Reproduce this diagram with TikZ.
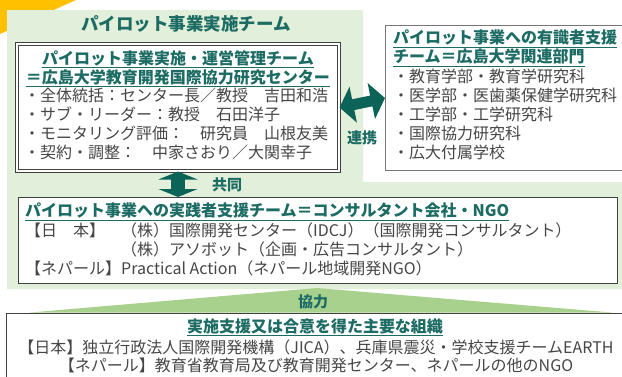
\documentclass[tikz,border=0pt]{standalone}
\usepackage{fontspec}
\setmainfont{Noto Sans CJK JP}
\usetikzlibrary{arrows.meta,positioning}
\definecolor{jteal}{RGB}{28,108,100}
\definecolor{arrowteal}{RGB}{12,100,88}
\definecolor{textgray}{RGB}{70,70,70}
\definecolor{bggreen}{RGB}{226,239,218}
\definecolor{wedgegreen}{RGB}{169,209,142}
\definecolor{gold}{RGB}{255,192,0}
\definecolor{framegray}{RGB}{64,64,64}
\definecolor{lightframe}{RGB}{118,118,118}
\begin{document}
\begin{tikzpicture}[x=1pt,y=-1pt,
    every node/.style={inner sep=0pt},
    body/.style={font=\fontsize{16}{19}\selectfont, text=textgray},
    head/.style={font=\bfseries\fontsize{16}{19}\selectfont, text=jteal},
    lbl/.style={font=\bfseries\fontsize{15}{18}\selectfont, text=jteal},
    box/.style={draw=framegray, line width=1.2pt, fill=white},
    dblbox/.style={draw=framegray, double=white, double distance=1.5pt, line width=1pt, fill=white},
    bigarrow/.style={draw=arrowteal, line width=11pt, {Triangle[length=14pt,width=36pt]}-{Triangle[length=14pt,width=36pt]}},
    vertarrow/.style={draw=arrowteal, line width=14pt, {Triangle[length=8pt,width=39pt]}-{Triangle[length=8pt,width=39pt]}}]
    \useasboundingbox (0,0) rectangle (622,376);
    % background shapes
    \fill[gold] (0,0) -- (76,0) -- (0,34) -- cycle;
    \fill[bggreen] (7,10) -- (363,10) -- (363,182) -- (622,182) -- (622,289) -- (7,289) -- cycle;
    \node[lbl, font=\bfseries\fontsize{17.5}{20}\selectfont] (title) at (186,24) {パイロット事業実施チーム};
    % boxes
    \node[dblbox, minimum width=322pt, minimum height=127pt] (mgmt) at (178,107.5) {};
    \node[box, draw=lightframe, minimum width=250pt, minimum height=145pt, anchor=north west] (expert) at (385,25) {};
    \node[box, minimum width=599pt, minimum height=86pt, anchor=north west] (consult) at (18,197) {};
    \fill[wedgegreen] (317,288) -- (612,312.5) -- (30,312.5) -- cycle;
    \node[box, minimum width=630pt, minimum height=80pt, anchor=north west] (orgs) at (6,313) {};
    % arrows
    \draw[bigarrow] (mgmt.east) -- (expert.west);
    \draw[vertarrow] (mgmt.south) -- (mgmt.south |- consult.north);
    \node[lbl] (renkei) at (362,138) {連携};
    \node[lbl] (kyodo) at (227,185) {共同};
    \node[lbl] (kyoryoku) at (313,302) {協力};
    % texts
    \node[head, align=center] (mgmtT) at (178,68.5) {\underline{パイロット事業実施・運営管理チーム}\\\underline{＝広島大学教育開発国際協力研究センター}};
    \node[body, align=left, anchor=north west] (mgmtL) at (24,88) {・全体統括：センター長／教授　吉田和浩\\・サブ・リーダー：教授　石田洋子\\・モニタリング評価：　研究員　山根友美\\・契約・調整：　中家さおり／大関幸子};
    \node[head, align=left, anchor=north west] (expertT) at (393,30) {\underline{パイロット事業への有識者支援}\\\underline{チーム＝広島大学関連部門}};
    \node[body, align=left, anchor=north west] (expertL) at ([yshift=-2pt]expertT.south west) {・教育学部・教育学研究科\\・医学部・医歯薬保健学研究科\\・工学部・工学研究科\\・国際協力研究科\\・広大付属学校};
    \node[head, anchor=north west] (consultT) at (25,203) {\underline{パイロット事業への実践者支援チーム＝コンサルタント会社・NGO}};
    \node[body, align=left, anchor=north west] (consultL) at ([yshift=-2pt]consultT.south west) {【日　本】　（株）国際開発センター（IDCJ）（国際開発コンサルタント）\\　　　　　　（株）アソボット（企画・広告コンサルタント）\\【ネパール】Practical Action（ネパール地域開発NGO）};
    \node[head] (orgsT) at (315,327) {\underline{実施支援又は合意を得た主要な組織}};
    \node[body] (orgsJ) at (316,347) {【日本】独立行政法人国際開発機構（JICA）、兵庫県震災・学校支援チームEARTH};
    \node[body] (orgsN) at (316,365.5) {【ネパール】教育省教育局及び教育開発センター、ネパールの他のNGO};
\end{tikzpicture}
\end{document}
